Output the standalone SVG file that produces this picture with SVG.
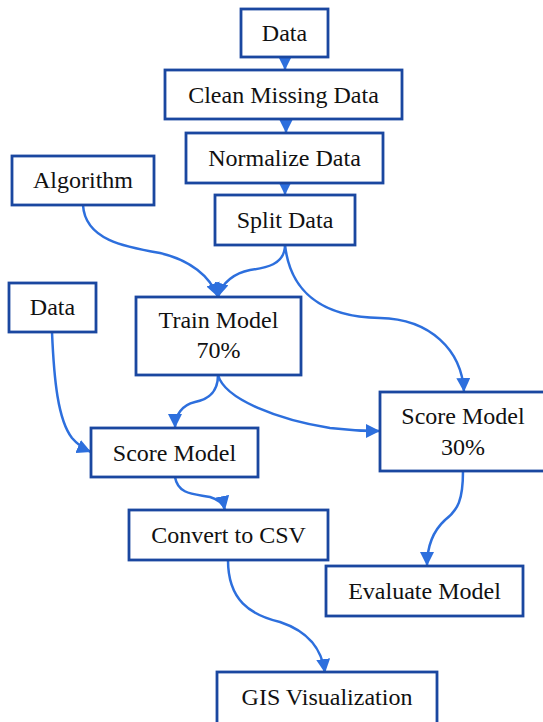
<svg xmlns="http://www.w3.org/2000/svg" width="543" height="722" viewBox="0 0 543 722">
<style>
.box{fill:#fff;stroke:#1a47a0;stroke-width:2.8}
.lbl{font-family:"Liberation Serif","Times New Roman",serif;font-size:24px;fill:#111;text-anchor:middle}
.edge{fill:none;stroke:#2d6fdd;stroke-width:2.5}
</style>
<defs>
<marker id="ah" viewBox="0 0 10 10" refX="10" refY="5" markerWidth="14" markerHeight="14" markerUnits="userSpaceOnUse" orient="auto">
<path d="M0,0 L10,5 L0,10 Z" fill="#2d6fdd"/>
</marker>
</defs>
<rect width="543" height="722" fill="#fff"/>
<g id="connectors">
<path class="edge" marker-end="url(#ah)" d="M285,57 L285,70"/>
<path class="edge" marker-end="url(#ah)" d="M286,119 L286,133"/>
<path class="edge" marker-end="url(#ah)" d="M285,183 L285,195"/>
<path class="edge" marker-end="url(#ah)" d="M83,205 C85,240 125,247 160,253 C190,260 210,276 218,297"/>
<path class="edge" marker-end="url(#ah)" d="M285,245 C285,265 265,268 250,270 C235,273 222,282 218,297"/>
<path class="edge" marker-end="url(#ah)" d="M285,245 C290,290 320,317 380,318 C430,319 462,350 464,392"/>
<path class="edge" marker-end="url(#ah)" d="M218,375 C218,395 205,400 195,402 C182,405 175,415 175,428"/>
<path class="edge" marker-end="url(#ah)" d="M218,375 C225,400 280,420 330,428 C355,431 368,431 380,431"/>
<path class="edge" marker-end="url(#ah)" d="M52,332 C54,380 58,420 72,438 C78,445 84,449 91,452"/>
<path class="edge" marker-end="url(#ah)" d="M175,477 C178,495 195,494 210,497 C220,500 224,505 225,510"/>
<path class="edge" marker-end="url(#ah)" d="M463,471 C463,500 458,510 445,520 C432,532 427,548 427,566"/>
<path class="edge" marker-end="url(#ah)" d="M228,560 C228,600 250,615 280,622 C310,632 322,650 325,673"/>
</g>
<g id="data-top"><rect class="box" x="241" y="9" width="87" height="48"/><text class="lbl" x="284.5" y="41">Data</text></g>
<g id="clean"><rect class="box" x="165" y="70" width="237" height="49"/><text class="lbl" x="283.5" y="102.5">Clean Missing Data</text></g>
<g id="normalize"><rect class="box" x="186" y="133" width="197" height="50"/><text class="lbl" x="284.5" y="166">Normalize Data</text></g>
<g id="split"><rect class="box" x="215" y="195" width="140" height="50"/><text class="lbl" x="285" y="228">Split Data</text></g>
<g id="algorithm"><rect class="box" x="12" y="156" width="142" height="49"/><text class="lbl" x="83" y="188">Algorithm</text></g>
<g id="data-left"><rect class="box" x="9" y="283" width="87" height="49"/><text class="lbl" x="52.5" y="315">Data</text></g>
<g id="train"><rect class="box" x="136" y="297" width="165" height="78"/><text class="lbl" x="218.5" y="328">Train Model</text><text class="lbl" x="218.5" y="358">70%</text></g>
<g id="score-left"><rect class="box" x="91" y="428" width="167" height="49"/><text class="lbl" x="174.5" y="461">Score Model</text></g>
<g id="score-right"><rect class="box" x="380" y="392" width="166" height="79"/><text class="lbl" x="463" y="424">Score Model</text><text class="lbl" x="463" y="455">30%</text></g>
<g id="convert"><rect class="box" x="129" y="510" width="199" height="50"/><text class="lbl" x="228.5" y="543">Convert to CSV</text></g>
<g id="evaluate"><rect class="box" x="326" y="566" width="197" height="50"/><text class="lbl" x="424.5" y="599">Evaluate Model</text></g>
<g id="gis"><rect class="box" x="217" y="672" width="220" height="60"/><text class="lbl" x="327" y="705">GIS Visualization</text></g>
</svg>
